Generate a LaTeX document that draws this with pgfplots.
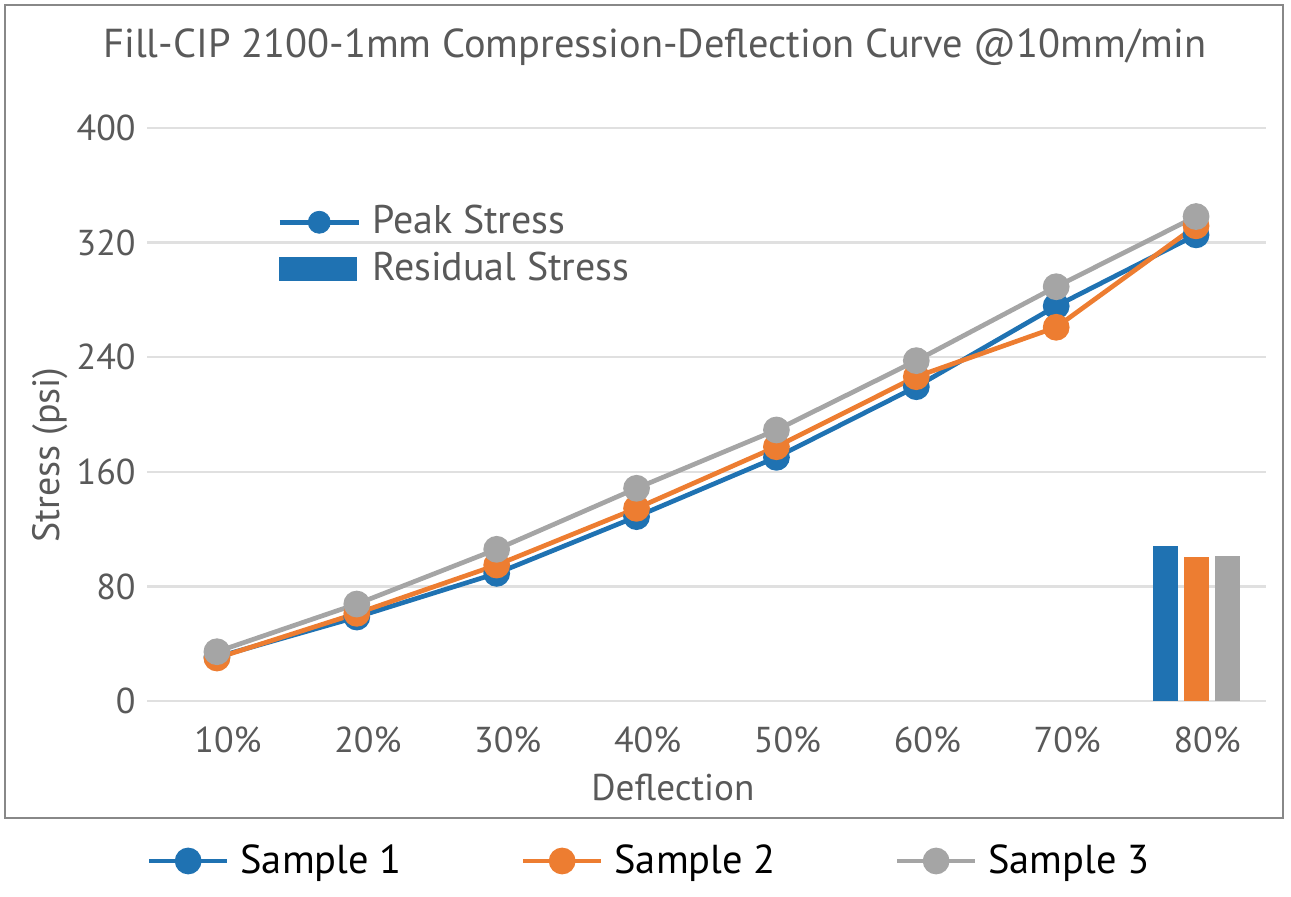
\documentclass[border=0pt]{standalone}
\usepackage{pgfplots}
\pgfplotsset{compat=1.18}
\usepackage{fontspec}
\setmainfont{PT Sans}
\definecolor{txt}{HTML}{595959}
\definecolor{c1}{HTML}{1F72B2}
\definecolor{c2}{HTML}{ED7D31}
\definecolor{c3}{HTML}{A5A5A5}
\definecolor{gridc}{HTML}{E0E0E0}
\definecolor{framec}{HTML}{888888}
\begin{document}
\begin{tikzpicture}
\useasboundingbox (0,0) rectangle (645.5pt,448pt);
\draw[framec, line width=0.75pt] (2.5pt,39pt) rectangle (641.5pt,445.5pt);
\node[anchor=base, font=\fontsize{20.2}{24}\selectfont, text=txt] at (327.5pt,419pt) {Fill-CIP 2100-1mm Compression-Deflection Curve @10mm/min};
\begin{axis}[
  at={(73.5pt,97.5pt)}, anchor=south west,
  scale only axis, width=559.5pt, height=286.5pt,
  xmin=-0.5, xmax=7.5, ymin=0, ymax=400,
  xtick={0,...,7},
  xticklabels={10\%,20\%,30\%,40\%,50\%,60\%,70\%,80\%},
  ytick={0,80,...,400},
  ymajorgrids, grid style={gridc, line width=1.25pt},
  axis line style={draw=none}, major tick length=0pt,
  /pgf/number format/assume math mode=true,
  ticklabel style={font=\fontsize{18}{20}\selectfont, text=txt, inner sep=0pt},
  xticklabel style={anchor=base, yshift=-25.5pt, xshift=5.5pt},
  yticklabel style={anchor=east, xshift=-5.5pt},
  xlabel={Deflection},
  xlabel style={at={(axis description cs:0.470,0)}, anchor=base, yshift=-49.5pt, font=\fontsize{18.6}{20}\selectfont, text=txt, inner sep=0pt},
  ylabel={Stress (psi)},
  ylabel style={at={(axis description cs:-0.0786,0.429)}, anchor=base, font=\fontsize{19}{20}\selectfont, text=txt, inner sep=0pt},
  legend columns=3,
  legend cell align=left,
  legend image code/.code={\draw[mark repeat=2,mark phase=2,#1] plot coordinates {(0pt,0pt) (19.5pt,0pt) (39pt,0pt)};},
  legend style={at={(axis description cs:-0.0005,-0.2792)}, anchor=west, draw=none, fill=none, inner sep=0pt,
    font=\fontsize{20.2}{24}\selectfont, text=black,
    nodes={inner sep=0pt, text height=16pt, text depth=3pt},
    /tikz/every odd column/.append style={column sep=5.5pt},
    /tikz/every even column/.append style={column sep=59.5pt}},
  clip=false,
]
\addplot[ybar, bar width=12.5pt, bar shift=-15.5pt, fill=c1, draw=none, forget plot] coordinates {(7,108.3)};
\addplot[ybar, bar width=12.5pt, bar shift=0pt, fill=c2, draw=none, forget plot] coordinates {(7,100.6)};
\addplot[ybar, bar width=12.5pt, bar shift=15.5pt, fill=c3, draw=none, forget plot] coordinates {(7,101.3)};
\addplot[c1, line width=2.35pt, mark=*, mark size=5.5pt, mark options={solid, draw=none, fill=c1}] coordinates {
(0,30.7) (1,58.6) (2,89.1) (3,128.7) (4,170.1) (5,219.4) (6,275.7) (7,325.4)};
\addlegendentry{Sample 1}
\addplot[c2, line width=2.35pt, mark=*, mark size=5.5pt, mark options={solid, draw=none, fill=c2}] coordinates {
(0,30.0) (1,61.2) (2,94.9) (3,134.5) (4,177.5) (5,226.4) (6,260.9) (7,331.7)};
\addlegendentry{Sample 2}
\addplot[c3, line width=2.35pt, mark=*, mark size=5.5pt, mark options={solid, draw=none, fill=c3}] coordinates {
(0,34.4) (1,67.7) (2,105.9) (3,148.5) (4,189.2) (5,237.6) (6,289.2) (7,338.2)};
\addlegendentry{Sample 3}
\end{axis}
\begin{axis}[
  at={(73.5pt,97.5pt)}, anchor=south west,
  scale only axis, width=559.5pt, height=286.5pt,
  xmin=-0.5, xmax=7.5, ymin=0, ymax=400,
  hide axis,
  legend cell align=left,
  legend style={at={(axis description cs:0.1162,0.7945)}, anchor=west, draw=none, fill=none, inner sep=0pt,
    font=\fontsize{20}{24}\selectfont, text=txt, row sep=3.5pt,
    nodes={inner sep=0pt, text height=15.5pt, text depth=4.5pt},
    /tikz/every odd column/.append style={column sep=5.5pt}},
]
\addplot[draw=none, forget plot] coordinates {(0,0)};
\addlegendimage{legend image code/.code={\draw[c1, line width=2.35pt] (0pt,0pt) -- (39.5pt,0pt); \fill[c1] (19.75pt,0pt) circle (5.5pt);}}
\addlegendentry{Peak Stress}
\addlegendimage{legend image code/.code={\fill[c1] (0pt,-5.75pt) rectangle (38.5pt,5.75pt);}}
\addlegendentry{Residual Stress}
\end{axis}
\end{tikzpicture}
\end{document}
